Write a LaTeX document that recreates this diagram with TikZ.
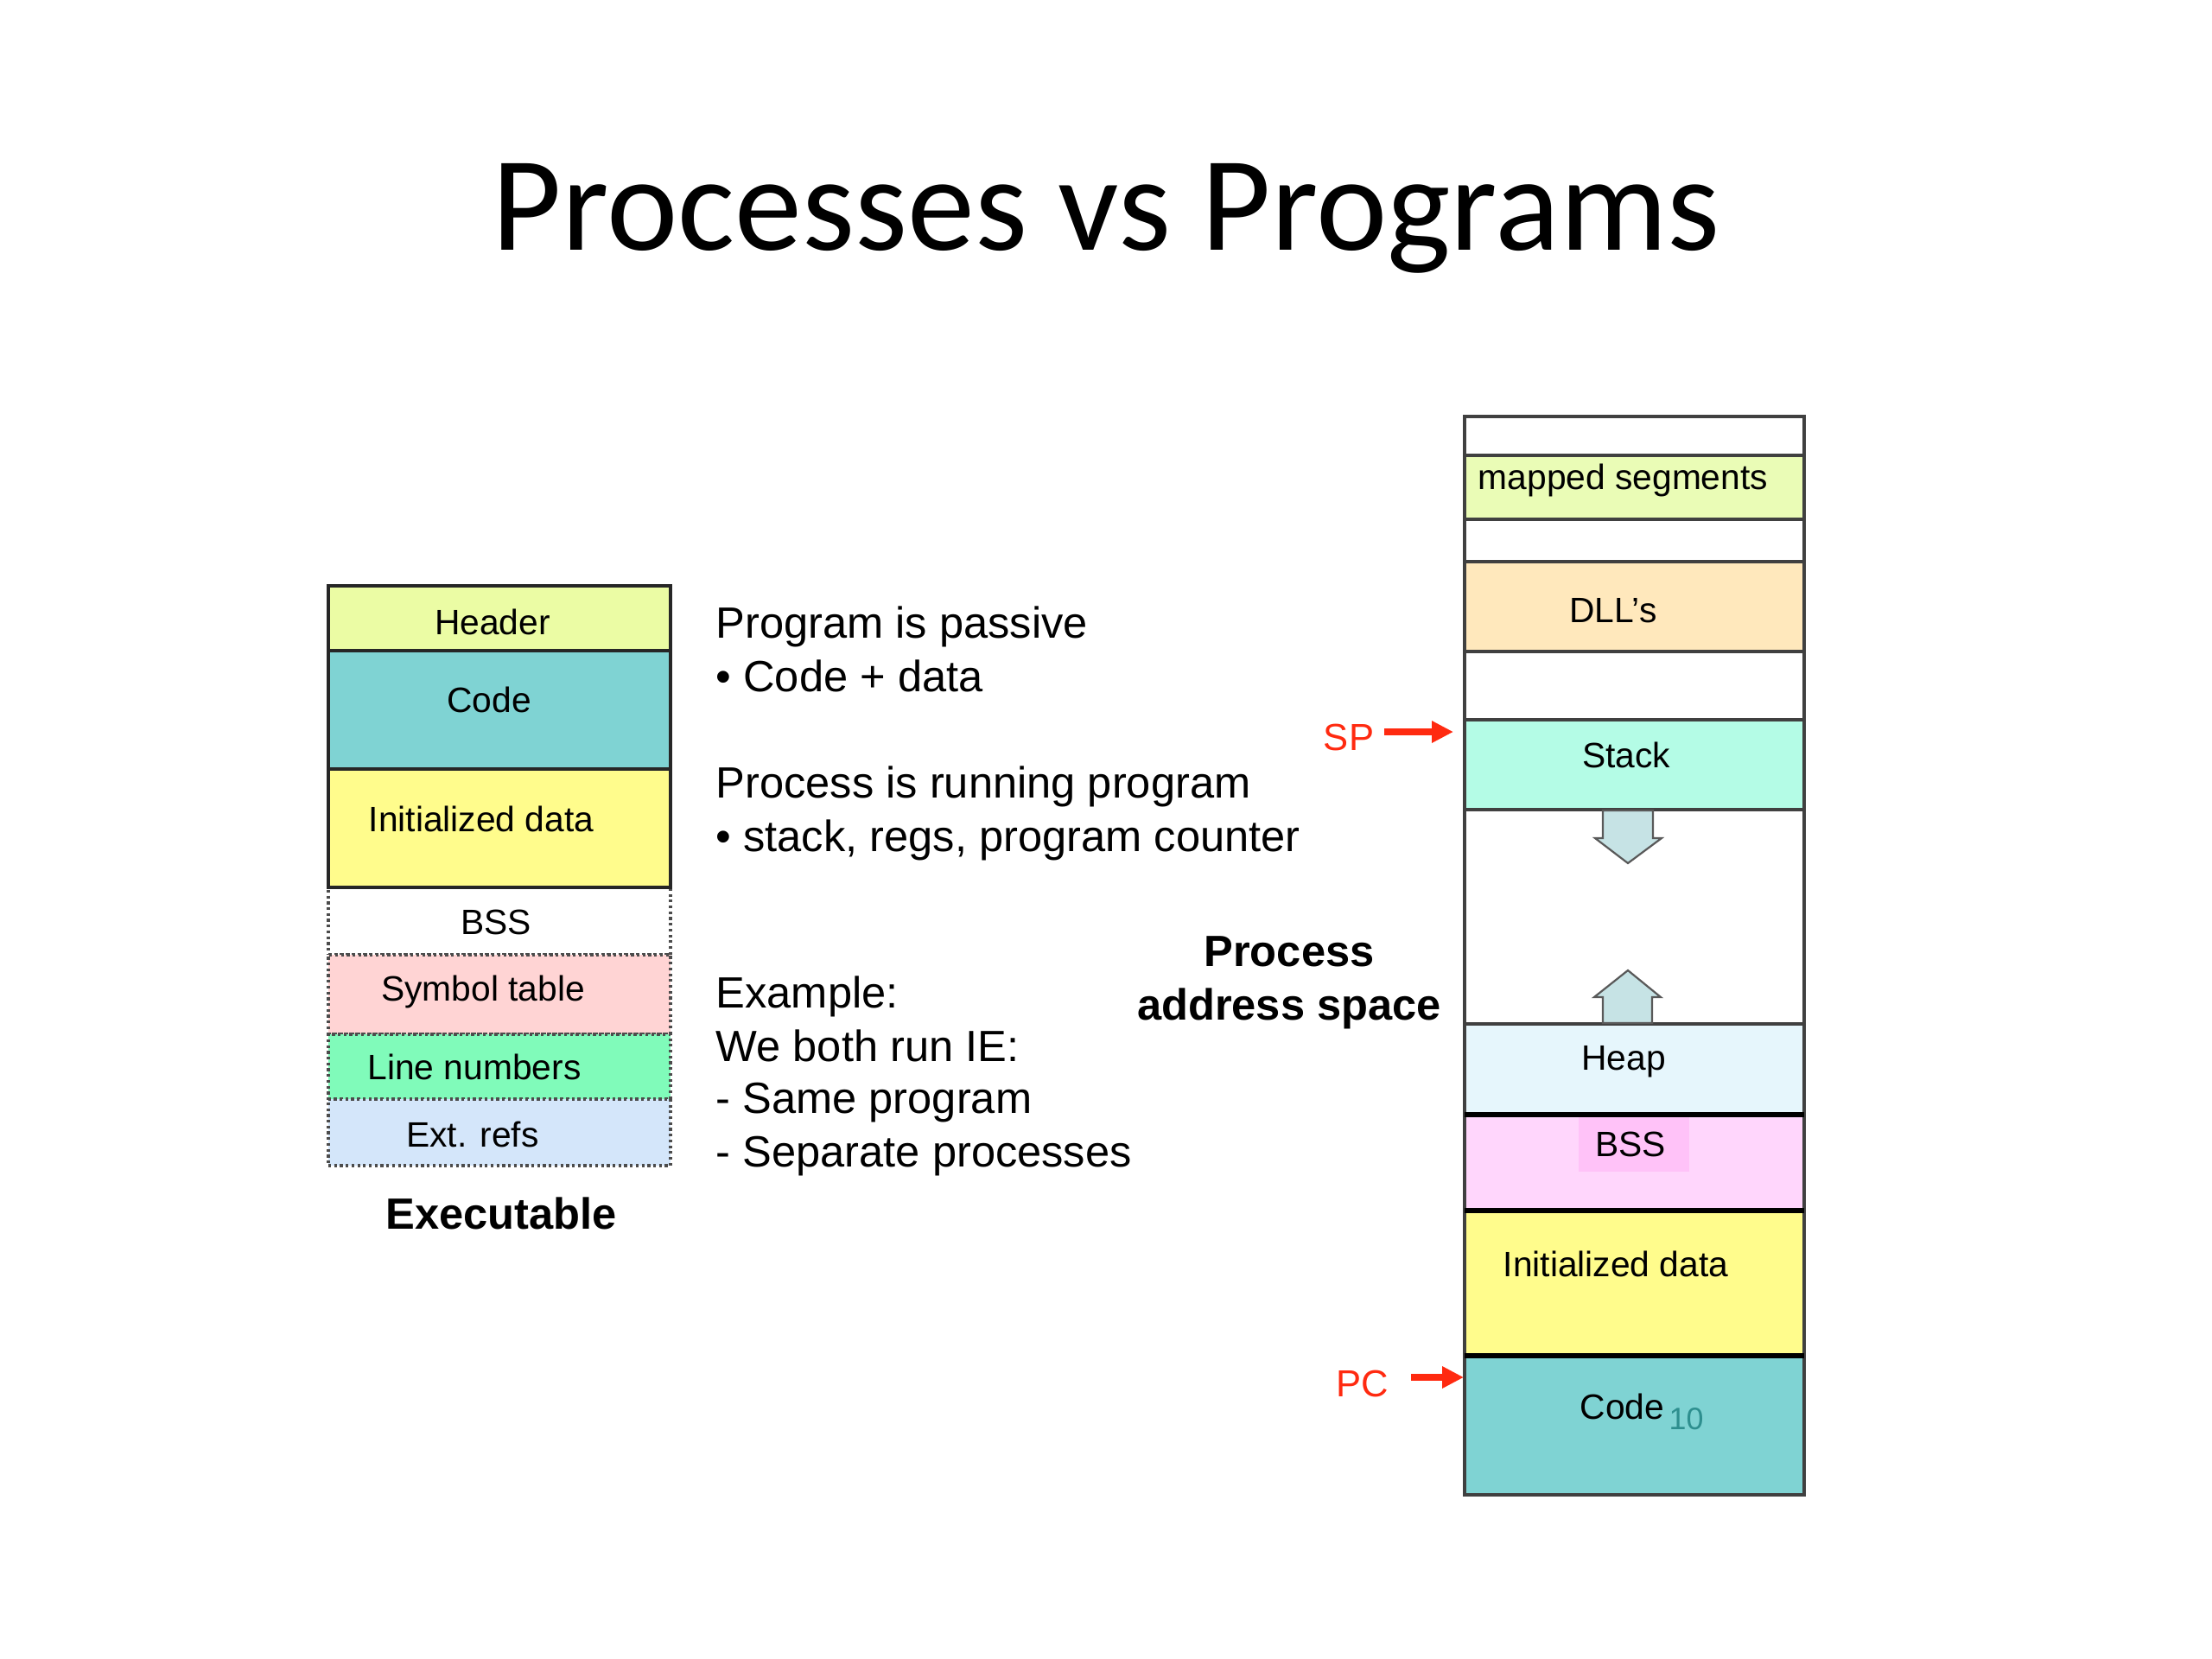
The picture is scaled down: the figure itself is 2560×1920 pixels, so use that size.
\documentclass[tikz,border=0pt]{standalone}
\usepackage{fontspec}
\setmainfont{Liberation Sans}
\newfontfamily\titlefont{Carlito}
\usetikzlibrary{arrows.meta}
\definecolor{hdrcol}{HTML}{EBFCA4}
\definecolor{codecol}{HTML}{7FD3D3}
\definecolor{initcol}{HTML}{FFFC8C}
\definecolor{symcol}{HTML}{FFD4D4}
\definecolor{linecol}{HTML}{80FBBA}
\definecolor{extcol}{HTML}{D4E6FA}
\definecolor{mapcol}{HTML}{EAFCB6}
\definecolor{dllcol}{HTML}{FFE8BC}
\definecolor{stackcol}{HTML}{B4FCE6}
\definecolor{heapcol}{HTML}{E6F6FC}
\definecolor{bsscol}{HTML}{FFD6FC}
\definecolor{bsshl}{HTML}{FFC2F8}
\definecolor{arrcol}{HTML}{C6E3E5}
\definecolor{redcol}{HTML}{FF2A10}
\definecolor{pagenum}{HTML}{2E8F8F}
\tikzset{
  seg/.style={rectangle, draw=black!85, line width=0.32mm, inner sep=0pt, outer sep=0pt},
  lseg/.style={seg, minimum width=39.6mm},
  dseg/.style={lseg, draw=black!70, line width=0.32mm, densely dotted},
  rseg/.style={seg, minimum width=39.3mm, draw=black!75},
  lbl/.style={anchor=base, inner sep=0pt, font=\fontsize{11.6}{14}\selectfont},
  bodytxt/.style={anchor=base west, inner sep=0pt, font=\fontsize{14.4}{17}\selectfont},
  boldtxt/.style={anchor=base, inner sep=0pt, font=\bfseries\fontsize{14.4}{17}\selectfont},
  redlbl/.style={anchor=base, inner sep=0pt, text=redcol, font=\fontsize{12.4}{15}\selectfont},
  redarrow/.style={draw=redcol, line width=2.2pt, -{Triangle[length=2.5mm,width=2.4mm]}},
  blockarr/.style={draw=black!65, line width=0.22mm, fill=arrcol, line join=miter},
  heavy/.style={draw=black, line width=0.55mm}
}
\begin{document}
\begin{tikzpicture}[x=0.1mm, y=-0.1mm]
\path[use as bounding box, fill=white] (0,0) rectangle (2560,1920);

% Title
\node[anchor=base, inner sep=0pt, font=\titlefont\fontsize{44.4}{52}\selectfont] (title) at (1280,289) {Processes vs Programs};

% ---------- Left stack (Executable) ----------
\node[dseg, fill=white,   minimum height=7.8mm] (lbss)  at (578,1066)   {};
\node[dseg, fill=symcol,  minimum height=9.2mm] (lsym)  at (578,1151)   {};
\node[dseg, fill=linecol, minimum height=7.5mm] (lline) at (578,1234.5) {};
\node[dseg, fill=extcol,  minimum height=7.7mm] (lext)  at (578,1310.5) {};
\node[lseg, fill=hdrcol,  minimum height=7.5mm]  (lhdr)  at (578,715.5) {};
\node[lseg, fill=codecol, minimum height=13.7mm] (lcode) at (578,821.5) {};
\node[lseg, fill=initcol, minimum height=13.7mm] (linit) at (578,958.5) {};

\node[lbl] (lhdrt)  at (570,734)  {Header};
\node[lbl] (lcodet) at (566,824)  {Code};
\node[lbl] (linitt) at (557,962)  {Initialized data};
\node[lbl] (lbsst)  at (574,1081) {BSS};
\node[lbl] (lsymt)  at (559,1158) {Symbol table};
\node[lbl] (llinet) at (549,1249) {Line numbers};
\node[lbl] (lextt)  at (547,1327) {Ext. refs};

\node[boldtxt] (exec) at (580,1422) {Executable};

% ---------- Middle text ----------
\node[bodytxt] (t1) at (828,738)  {Program is passive};
\node[bodytxt] (t2) at (828,800)  {• Code + data};
\node[bodytxt] (t3) at (828,923)  {Process is running program};
\node[bodytxt] (t4) at (828,985)  {• stack, regs, program counter};
\node[bodytxt] (t5) at (828,1166) {Example:};
\node[bodytxt] (t6) at (828,1228) {We both run IE:};
\node[bodytxt] (t7) at (828,1288) {- Same program};
\node[bodytxt] (t8) at (828,1350) {- Separate processes};

\node[boldtxt] (pas1) at (1492,1118) {Process};
\node[boldtxt] (pas2) at (1492,1180) {address space};

% ---------- Right stack (Process address space) ----------
\node[rseg, fill=white,    minimum height=4.5mm]  (rtop)   at (1891.5,504.5)  {};
\node[rseg, fill=mapcol,   minimum height=7.4mm]  (rmap)   at (1891.5,564)    {};
\node[rseg, fill=white,    minimum height=4.9mm]  (rgap1)  at (1891.5,625.5)  {};
\node[rseg, fill=dllcol,   minimum height=10.4mm] (rdll)   at (1891.5,702)    {};
\node[rseg, fill=white,    minimum height=7.9mm]  (rgap2)  at (1891.5,793.5)  {};
\node[rseg, fill=stackcol, minimum height=10.4mm] (rstack) at (1891.5,885)    {};
\node[rseg, fill=white,    minimum height=24.8mm] (rgap3)  at (1891.5,1061)   {};
\node[rseg, fill=heapcol,  minimum height=10.5mm] (rheap)  at (1891.5,1237.5) {};
\node[rseg, fill=bsscol,   minimum height=11.1mm] (rbss)   at (1891.5,1345.5) {};
\node[rseg, fill=initcol,  minimum height=16.8mm] (rinit)  at (1891.5,1485)   {};
\node[rseg, fill=codecol,  minimum height=16.1mm] (rcode)  at (1891.5,1649.5) {};

\fill[bsshl] (1827,1292) rectangle (1955,1356);
\draw[heavy] (rheap.south west) -- (rheap.south east);
\draw[heavy] (rbss.south west) -- (rbss.south east);
\draw[heavy] (rinit.south west) -- (rinit.south east);

% block arrows
\draw[blockarr] (1855,938) -- (1913,938) -- (1913,970) -- (1923,970) -- (1884,999) -- (1846,970) -- (1855,970) -- cycle;
\draw[blockarr] (1855,1184) -- (1855,1154) -- (1845,1154) -- (1884,1123) -- (1922,1154) -- (1912,1154) -- (1912,1184) -- cycle;

\node[lbl, anchor=base west] (rmapt) at (1710,566) {mapped segments};
\node[lbl] (rdllt)   at (1867,720)  {DLL’s};
\node[lbl] (rstackt) at (1882,888)  {Stack};
\node[lbl] (rheapt)  at (1879,1238) {Heap};
\node[lbl] (rbsst)   at (1887,1338) {BSS};
\node[lbl] (rinitt)  at (1870,1477) {Initialized data};
\node[lbl, anchor=base east] (rcodet) at (1927,1642) {Code};
\node[anchor=base west, inner sep=0pt, text=pagenum, font=\fontsize{10.2}{12}\selectfont] (pnum) at (1931,1654) {10};

% SP / PC pointers
\node[redlbl] (sp) at (1561,868)  {SP};
\node[redlbl] (pc) at (1577,1616) {PC};
\coordinate (spTail) at (1602,847);
\coordinate (spTip)  at (1682,847);
\coordinate (pcTail) at (1633,1594);
\coordinate (pcTip)  at (1694,1594);
\draw[redarrow] (spTail) -- (spTip);
\draw[redarrow] (pcTail) -- (pcTip);
\end{tikzpicture}
\end{document}
